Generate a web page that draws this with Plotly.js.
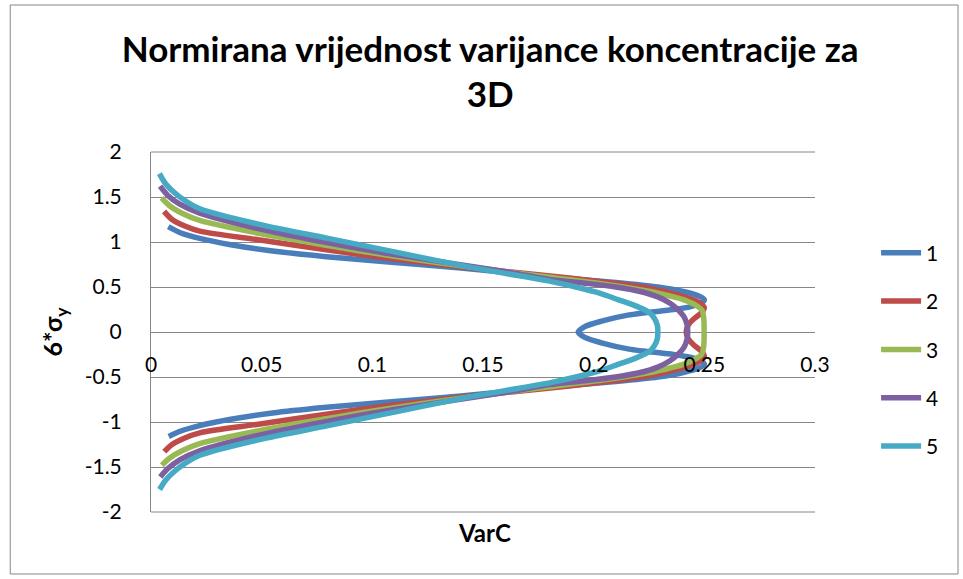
<!DOCTYPE html>
<html>
<head>
<meta charset="utf-8">
<script src="https://cdn.plot.ly/plotly-3.0.1.min.js"></script>
<style>html,body{margin:0;padding:0;background:#fff;}#chart{width:963px;height:579px;}</style>
</head>
<body>
<div id="chart"></div>
<script>
// Series names
const seriesNames = ['1', '2', '3', '4', '5'];
const seriesColors = ['#4A7EBB', '#BE4B48', '#98B954', '#7D60A0', '#46AAC5'];

// Series 1 (y = 6*sigma_y, x = VarC)
const y1 = [1.17, 1.10, 1.04, 0.97, 0.90, 0.84, 0.78, 0.71, 0.65, 0.60, 0.55, 0.50, 0.45, 0.40, 0.36, 0.32, 0.28, 0.25, 0.19, 0.12, 0.06, 0,
            -0.06, -0.12, -0.19, -0.25, -0.28, -0.32, -0.36, -0.40, -0.45, -0.50, -0.55, -0.60, -0.65, -0.71, -0.78, -0.84, -0.90, -0.97, -1.04, -1.10, -1.16];
const x1 = [0.0078, 0.0135, 0.022, 0.036, 0.055, 0.078, 0.106, 0.140, 0.165, 0.186, 0.210, 0.229, 0.2405, 0.2475, 0.2500, 0.2485, 0.2435, 0.2360, 0.2160, 0.2035, 0.1960, 0.1930,
            0.1960, 0.2035, 0.2160, 0.2360, 0.2435, 0.2485, 0.2500, 0.2475, 0.2405, 0.229, 0.210, 0.186, 0.165, 0.140, 0.106, 0.078, 0.055, 0.036, 0.022, 0.0135, 0.0080];

// Series 2
const y2 = [1.34, 1.25, 1.18, 1.12, 1.02, 0.91, 0.81, 0.72, 0.66, 0.60, 0.53, 0.485, 0.43, 0.38, 0.33, 0.27, 0.21, 0.15, 0.08, 0,
            -0.08, -0.15, -0.21, -0.27, -0.33, -0.38, -0.43, -0.485, -0.53, -0.60, -0.66, -0.72, -0.81, -0.91, -1.02, -1.12, -1.18, -1.25, -1.33];
const x2 = [0.0059, 0.0095, 0.015, 0.022, 0.050, 0.080, 0.110, 0.142, 0.165, 0.189, 0.213, 0.2255, 0.2355, 0.2425, 0.2475, 0.2500, 0.2485, 0.2455, 0.2428, 0.2418,
            0.2428, 0.2455, 0.2485, 0.2500, 0.2475, 0.2425, 0.2355, 0.2255, 0.213, 0.189, 0.165, 0.142, 0.110, 0.080, 0.050, 0.022, 0.015, 0.0095, 0.0060];

// Series 3
const y3 = [1.49, 1.40, 1.32, 1.24, 1.09, 0.96, 0.84, 0.73, 0.67, 0.60, 0.52, 0.45, 0.40, 0.36, 0.30, 0.24, 0.16, 0.08, 0,
            -0.08, -0.16, -0.24, -0.30, -0.36, -0.40, -0.45, -0.52, -0.60, -0.67, -0.73, -0.84, -0.96, -1.09, -1.24, -1.32, -1.40, -1.48];
const x3 = [0.0048, 0.0085, 0.014, 0.022, 0.050, 0.080, 0.110, 0.142, 0.160, 0.183, 0.208, 0.2255, 0.2345, 0.2405, 0.2460, 0.2490, 0.2497, 0.2499, 0.2499,
            0.2499, 0.2497, 0.2490, 0.2460, 0.2405, 0.2345, 0.2255, 0.208, 0.183, 0.160, 0.142, 0.110, 0.080, 0.050, 0.022, 0.014, 0.0085, 0.0049];

// Series 4
const y4 = [1.62, 1.52, 1.42, 1.32, 1.14, 0.99, 0.86, 0.74, 0.66, 0.585, 0.54, 0.50, 0.45, 0.39, 0.32, 0.25, 0.17, 0.08, 0,
            -0.08, -0.17, -0.25, -0.32, -0.39, -0.45, -0.50, -0.54, -0.585, -0.66, -0.74, -0.86, -0.99, -1.14, -1.32, -1.42, -1.52, -1.61];
const x4 = [0.0041, 0.0075, 0.013, 0.022, 0.050, 0.080, 0.110, 0.142, 0.163, 0.180, 0.197, 0.210, 0.221, 0.229, 0.2345, 0.2380, 0.2408, 0.2422, 0.2425,
            0.2422, 0.2408, 0.2380, 0.2345, 0.229, 0.221, 0.210, 0.197, 0.180, 0.163, 0.142, 0.110, 0.080, 0.050, 0.022, 0.013, 0.0075, 0.0042];

// Series 5
const y5 = [1.76, 1.65, 1.55, 1.45, 1.37, 1.19, 1.04, 0.89, 0.74, 0.66, 0.56, 0.50, 0.43, 0.36, 0.29, 0.21, 0.14, 0.07, 0,
            -0.07, -0.14, -0.21, -0.29, -0.36, -0.43, -0.50, -0.56, -0.66, -0.74, -0.89, -1.04, -1.19, -1.37, -1.45, -1.55, -1.65, -1.75];
const x5 = [0.0038, 0.0065, 0.0105, 0.016, 0.0221, 0.050, 0.080, 0.110, 0.140, 0.158, 0.181, 0.192, 0.203, 0.211, 0.219, 0.2255, 0.2277, 0.2288, 0.2290,
            0.2288, 0.2277, 0.2255, 0.219, 0.211, 0.203, 0.192, 0.181, 0.158, 0.140, 0.110, 0.080, 0.050, 0.0221, 0.016, 0.0105, 0.0065, 0.0039];

// Tick labels
const xTickVals = [0, 0.05, 0.1, 0.15, 0.2, 0.25, 0.3];
const xTickText = ['0', '0.05', '0.1', '0.15', '0.2', '0.25', '0.3'];
const yTickVals = [-2, -1.5, -1, -0.5, 0, 0.5, 1, 1.5, 2];
const yTickText = ['-2', '-1.5', '-1', '-0.5', '0', '0.5', '1', '1.5', '2'];

const titleText = 'Normirana vrijednost varijance koncentracije za<br>3D';
const xTitle = 'VarC';
const yTitle = '6*σ<sub>y</sub>';

const xs = [x1, x2, x3, x4, x5];
const ys = [y1, y2, y3, y4, y5];
const FONT = 'Lato, "Open Sans", "DejaVu Sans", sans-serif';

const traces = seriesNames.map((n, i) => ({
  type: 'scatter', mode: 'lines', name: n,
  x: xs[i], y: ys[i],
  line: {color: seriesColors[i], width: 5.5, shape: 'spline', smoothing: 0.8},
  legendgroup: 'g' + i,
  hoverinfo: 'skip'
}));

const layout = {
  width: 963, height: 579,
  paper_bgcolor: '#ffffff', plot_bgcolor: '#ffffff',
  margin: {l: 151, r: 148, t: 152, b: 67, pad: 0},
  font: {family: FONT, color: '#000000', size: 20},
  title: {
    text: titleText,
    font: {family: FONT, size: 35, weight: 'bold', color: '#000'},
    xref: 'container', yref: 'container',
    x: 0.509, xanchor: 'center',
    y: 0.893, yanchor: 'middle'
  },
  xaxis: {
    range: [0, 0.3], tickvals: xTickVals, ticktext: xTickText,
    showgrid: false, zeroline: false, showline: false,
    anchor: 'free', position: 0.5,
    ticks: '', ticklabelstandoff: 18,
    tickfont: {family: FONT, size: 21, color: '#000'},
    fixedrange: true
  },
  yaxis: {
    range: [-2, 2], tickvals: yTickVals, ticktext: yTickText,
    showgrid: true, gridcolor: '#868686', gridwidth: 1,
    zeroline: false, showline: true, linecolor: '#868686', linewidth: 1,
    ticks: '', ticklabelstandoff: 24,
    tickfont: {family: FONT, size: 21, color: '#000'},
    title: {text: yTitle, font: {family: FONT, size: 25, weight: 'bold'}, standoff: 14},
    fixedrange: true
  },
  showlegend: true,
  legend: {
    x: 1.092, xanchor: 'left', y: 0.776, yanchor: 'top',
    font: {family: FONT, size: 21, color: '#000'},
    traceorder: 'grouped', tracegroupgap: 18,
    itemwidth: 40,
    bgcolor: 'rgba(0,0,0,0)'
  },
  annotations: [{
    text: '<b>' + xTitle + '</b>', xref: 'paper', yref: 'paper',
    x: 0.502, y: -0.058, xanchor: 'center', yanchor: 'middle',
    showarrow: false, font: {family: FONT, size: 24, color: '#000'}
  }],
  shapes: [
    {type: 'rect', xref: 'paper', yref: 'paper', x0: -0.212, x1: 1.2154, y0: -0.1722, y1: 1.4083,
     line: {color: '#868686', width: 1}, fillcolor: 'rgba(0,0,0,0)', layer: 'below'},
    {type: 'line', xref: 'paper', yref: 'paper', x0: 0, x1: 1, y0: 1, y1: 1, line: {color: '#868686', width: 1}, layer: 'below'},
    {type: 'line', xref: 'paper', yref: 'paper', x0: 0, x1: 1, y0: 0, y1: 0, line: {color: '#868686', width: 1}, layer: 'below'}
  ]
};

Plotly.newPlot('chart', traces, layout, {staticPlot: true, displayModeBar: false});
</script>
</body>
</html>
